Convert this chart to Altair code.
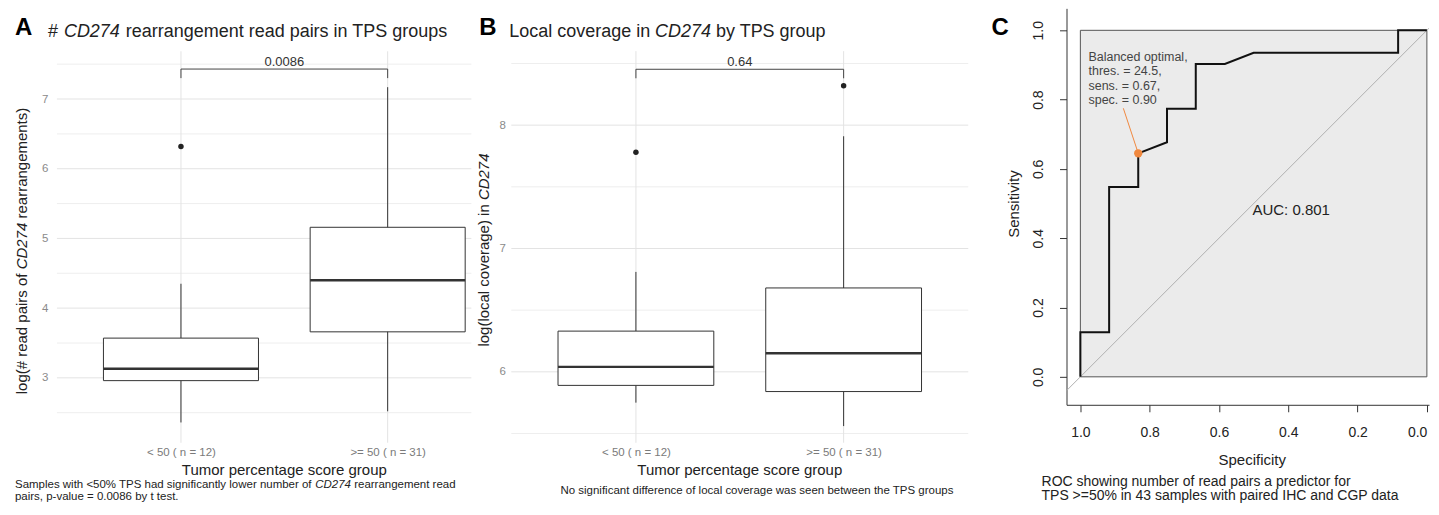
import altair as alt
import pandas as pd

FONT = "Liberation Sans"
DARK = "#333333"

# ---------------- data ----------------
groups = ["< 50 ( n = 12)", ">= 50 ( n = 31)"]
group_pos = [1, 2]

# Panel A: log(# read pairs of CD274 rearrangements)
a_whisker_low = [2.36, 2.52]
a_q1 = [2.96, 3.66]
a_median = [3.13, 4.40]
a_q3 = [3.57, 5.16]
a_whisker_high = [4.35, 7.17]
a_outlier_group = [1]
a_outlier_value = [6.32]
a_p_value = "0.0086"
a_major = [3, 4, 5, 6, 7]
a_minor = [2.5, 3.5, 4.5, 5.5, 6.5, 7.5]

# Panel B: log(local coverage) in CD274
b_whisker_low = [5.75, 5.56]
b_q1 = [5.89, 5.84]
b_median = [6.04, 6.15]
b_q3 = [6.33, 6.68]
b_whisker_high = [6.81, 7.91]
b_outlier_group = [1, 2]
b_outlier_value = [7.78, 8.32]
b_p_value = "0.64"
b_major = [6, 7, 8]
b_minor = [5.5, 6.5, 7.5, 8.5]

# Panel C: ROC curve
roc_specificity = [1.0, 1.0, 0.917, 0.917, 0.833, 0.833, 0.75, 0.75, 0.667, 0.667,
                   0.583, 0.5, 0.083, 0.083, 0.0]
roc_sensitivity = [0.0, 0.129, 0.129, 0.548, 0.548, 0.645, 0.677, 0.774, 0.774, 0.903,
                   0.903, 0.935, 0.935, 1.0, 1.0]
optimal_spec = [0.833]
optimal_sens = [0.645]
optimal_label_anchor = [0.876, 0.775]
optimal_lines = ["Balanced optimal,", "thres. = 24.5,", "sens. = 0.67,", "spec. = 0.90"]
auc_text = "AUC: 0.801"
spec_ticks = [1.0, 0.8, 0.6, 0.4, 0.2, 0.0]
sens_ticks = [0.0, 0.2, 0.4, 0.6, 0.8, 1.0]

# ---------------- layout ----------------
A_W, A_H = 415, 435
B_W, B_H = 516, 435
C_W, C_H = 363, 397
A_XDOM = [0.4, 0.4 + A_W / 207.0]
A_YDOM = [2.069, 8.301]
A_TOP = 7.685
B_XDOM = [0.4, 0.4 + B_W / 208.0]
B_YDOM = [5.425, 8.947]
B_TOP = 8.6
C_XDOM = [1.04, 1.04 - C_W / 347.0]
C_YDOM = [-0.0807, 1.0634]
BOX_HALF = 0.375


def label(text, x, y, size, color="#222222", style="normal", weight="normal",
          angle=0, align="left", baseline="alphabetic"):
    return alt.Chart(pd.DataFrame({"t": [text]})).mark_text(
        fontSize=size, color=color, fontStyle=style, fontWeight=weight,
        angle=angle, align=align, baseline=baseline, font=FONT
    ).encode(text="t:N", x=alt.value(x), y=alt.value(y))


def box_panel(lo, q1, med, q3, hi, out_g, out_v, p_text, major, minor,
              xdom, ydom, grid_end, top, br_y, br_tick, p_y, ylab_pad, texts, w, h):
    xs = alt.Scale(domain=xdom, nice=False, zero=False)
    ys = alt.Scale(domain=ydom, nice=False, zero=False)
    label_expr = "[" + ", ".join("'" + g + "'" for g in groups) + "][datum.value - 1]"
    x_axis = alt.Axis(values=group_pos, labelExpr=label_expr, title=None, domain=False,
                      ticks=False, grid=False, labelPadding=4, labelFontSize=11.5,
                      labelColor="#7a7a7a", labelFont=FONT, labelFlush=False)
    y_axis = alt.Axis(values=major, format="d", title=None, domain=False, ticks=False,
                      grid=False, labelPadding=ylab_pad, labelFontSize=11.5,
                      labelColor="#8a8a8a", labelFont=FONT)

    def X(f):
        return alt.X(f, scale=xs, axis=x_axis)

    def Y(f):
        return alt.Y(f, scale=ys, axis=y_axis)

    gdf = pd.DataFrame({"v": major + minor,
                        "kind": ["major"] * len(major) + ["minor"] * len(minor)})
    gdf["x0"] = xdom[0]
    gdf["x1"] = grid_end
    hgrid = alt.Chart(gdf).mark_rule().encode(
        x=X("x0:Q"), x2="x1:Q", y=Y("v:Q"),
        color=alt.Color("kind:N", scale=alt.Scale(domain=["major", "minor"],
                        range=["#e3e3e3", "#eeeeee"]), legend=None),
    )
    vdf = pd.DataFrame({"pos": group_pos})
    vdf["y0"] = ydom[0]
    vdf["y1"] = top
    vgrid = alt.Chart(vdf).mark_rule(color="#e3e3e3").encode(
        x=X("pos:Q"), y=Y("y0:Q"), y2="y1:Q")

    bdf = pd.DataFrame({"pos": group_pos, "lo": lo, "q1": q1, "med": med, "q3": q3, "hi": hi})
    bdf["left"] = bdf["pos"] - BOX_HALF
    bdf["right"] = bdf["pos"] + BOX_HALF
    whisk = alt.Chart(bdf).mark_rule(color=DARK, strokeWidth=1).encode(
        x=X("pos:Q"), y=Y("lo:Q"), y2="hi:Q")
    box = alt.Chart(bdf).mark_rect(fill="white", stroke=DARK, strokeWidth=1).encode(
        x=X("left:Q"), x2="right:Q", y=Y("q1:Q"), y2="q3:Q")
    median = alt.Chart(bdf).mark_rule(color=DARK, strokeWidth=2.4).encode(
        x=X("left:Q"), x2="right:Q", y=Y("med:Q"))
    odf = pd.DataFrame({"g": out_g, "v": out_v})
    outl = alt.Chart(odf).mark_circle(size=30, color="#222222", opacity=1).encode(
        x=X("g:Q"), y=Y("v:Q"))

    brdf = pd.DataFrame({"x": [1, 1, 2], "x2": [2, 1, 2],
                         "y": [br_y, br_tick, br_tick], "y2": [br_y, br_y, br_y]})
    bracket = alt.Chart(brdf).mark_rule(color="#444444", strokeWidth=1).encode(
        x=X("x:Q"), x2="x2:Q", y=Y("y:Q"), y2="y2:Q")
    ptext = alt.Chart(pd.DataFrame({"x": [1.5], "y": [p_y], "t": [p_text]})).mark_text(
        fontSize=13, color="#333333", font=FONT, baseline="middle").encode(
        x=X("x:Q"), y=Y("y:Q"), text="t:N")

    layers = [hgrid, vgrid, whisk, box, median, outl, bracket, ptext] + texts
    return alt.layer(*layers).properties(width=w, height=h)


# ---------- panel A ----------
a_texts = [
    label("A", -42, 27, 24, color="#000000", weight="bold"),
    label("#", -9, 28.5, 18),
    label("CD274", 7, 28.5, 18, style="italic"),
    label("rearrangement read pairs in TPS groups", 69, 28.5, 18),
    label("log(# read pairs of", -35, 386.4, 15, angle=270, baseline="middle"),
    label("CD274", -35, 261.3, 15, style="italic", angle=270, baseline="middle"),
    label("rearrangements)", -35, 210.4, 15, angle=270, baseline="middle"),
    label("Tumor percentage score group", 227.7, 462, 15, align="center", baseline="middle"),
    label("Samples with <50% TPS had significantly lower number of", -42, 480.5, 11.5),
    label("CD274", 258.7, 480.5, 11.5, style="italic"),
    label("rearrangement read", 297.7, 480.5, 11.5),
    label("pairs, p-value = 0.0086 by t test.", -42, 492.5, 11.5),
    alt.Chart(pd.DataFrame({"t": [0]})).mark_rule(opacity=0).encode(
        x=alt.value(-49), x2=alt.value(-49), y=alt.value(200), y2=alt.value(201)),
]
panel_a = box_panel(a_whisker_low, a_q1, a_median, a_q3, a_whisker_high,
                    a_outlier_group, a_outlier_value, a_p_value, a_major, a_minor,
                    A_XDOM, A_YDOM, A_XDOM[1], A_TOP, 7.43, 7.30, 7.53, 9, a_texts, A_W, A_H)

# ---------- panel B ----------
b_texts = [
    label("B", -32, 27, 24, color="#000000", weight="bold"),
    label("Local coverage in", -2, 28.5, 18),
    label("CD274", 144, 28.5, 18, style="italic"),
    label("by TPS group", 205, 28.5, 18),
    label("log(local coverage) in", -27, 338.7, 15, angle=270, baseline="middle"),
    label("CD274", -27, 192, 15, style="italic", angle=270, baseline="middle"),
    label("Tumor percentage score group", 228.8, 462, 15, align="center", baseline="middle"),
    label("No significant difference of local coverage was seen between the TPS groups",
          246, 486, 11.5, align="center"),
]
panel_b = box_panel(b_whisker_low, b_q1, b_median, b_q3, b_whisker_high,
                    b_outlier_group, b_outlier_value, b_p_value, b_major, b_minor,
                    B_XDOM, B_YDOM, 2.6, B_TOP, 8.453, 8.38, 8.51, 6, b_texts, B_W, B_H)

# ---------- panel C ----------
cx = alt.Scale(domain=C_XDOM, nice=False, zero=False)
cy = alt.Scale(domain=C_YDOM, nice=False, zero=False)
cx_axis = alt.Axis(values=spec_ticks, format=".1f", title=None, grid=False, tickSize=7,
                   tickColor="#333333", domainColor="#333333", domainWidth=1,
                   labelFontSize=14, labelColor="#222222", labelPadding=14,
                   labelAlign={"condition": {"test": "datum.value == 0", "value": "right"},
                               "value": "center"},
                   labelFlush=False, labelOverlap=False, labelFont=FONT)
cy_axis = alt.Axis(values=sens_ticks, format=".1f", title=None, grid=False, tickSize=7,
                   tickColor="#333333", domainColor="#333333", domainWidth=1,
                   labelFontSize=14, labelColor="#222222", labelPadding=21,
                   labelAngle=270, labelAlign="center", labelBaseline="middle",
                   labelFlush=False, labelOverlap=False, labelFont=FONT)


def CX(f):
    return alt.X(f, scale=cx, axis=cx_axis)


def CY(f):
    return alt.Y(f, scale=cy, axis=cy_axis)


frame = alt.Chart(pd.DataFrame({"s0": [1.0], "s1": [0.0], "e0": [0.0], "e1": [1.0]})).mark_rect(
    fill="#ebebeb", stroke="#555555", strokeWidth=1).encode(
    x=CX("s0:Q"), x2="s1:Q", y=CY("e0:Q"), y2="e1:Q")
diag = alt.Chart(pd.DataFrame({"x": [1.04], "y": [-0.04], "x2": [C_XDOM[1]],
                               "y2": [1.0 - C_XDOM[1]]})).mark_rule(
    color="#b0b0b0", strokeWidth=1, clip=True).encode(
    x=CX("x:Q"), x2="x2:Q", y=CY("y:Q"), y2="y2:Q")
roc_df = pd.DataFrame({"spec": roc_specificity, "sens": roc_sensitivity,
                       "i": list(range(len(roc_specificity)))})
roc = alt.Chart(roc_df).mark_line(color="#111111", strokeWidth=2).encode(
    x=CX("spec:Q"), y=CY("sens:Q"), order="i:Q")
conn = alt.Chart(pd.DataFrame({"x": [optimal_label_anchor[0]], "y": [optimal_label_anchor[1]],
                               "x2": optimal_spec, "y2": optimal_sens})).mark_rule(
    color="#f0883e", strokeWidth=1).encode(
    x=CX("x:Q"), x2="x2:Q", y=CY("y:Q"), y2="y2:Q")
opt_pt = alt.Chart(pd.DataFrame({"x": optimal_spec, "y": optimal_sens})).mark_circle(
    size=70, color="#f0883e", opacity=1).encode(x=CX("x:Q"), y=CY("y:Q"))

c_texts = [
    label("C", -75, 27, 24, color="#000000", weight="bold"),
    label("Sensitivity", -53, 196, 15, angle=270, align="center", baseline="middle"),
    label("Specificity", 186, 452, 15, align="center", baseline="middle"),
    label("ROC showing number of read pairs a predictor for", -25, 478, 14),
    label("TPS >=50% in 43 samples with paired IHC and CGP data", -25, 492, 14),
    label(auc_text, 225, 202, 15, align="center", baseline="middle"),
]
for k, line in enumerate(optimal_lines):
    c_texts.append(label(line, 22, 49 + 14.2 * k, 12.5, color="#444444", baseline="middle"))

panel_c = alt.layer(frame, diag, roc, conn, opt_pt, *c_texts).properties(width=C_W, height=C_H)

chart = alt.hconcat(panel_a, panel_b, panel_c, spacing=40, bounds="flush").properties(
    padding=0
).configure(font=FONT).configure_view(stroke=None)

chart.save("out.html", embed_options={"renderer": "svg", "actions": False})
